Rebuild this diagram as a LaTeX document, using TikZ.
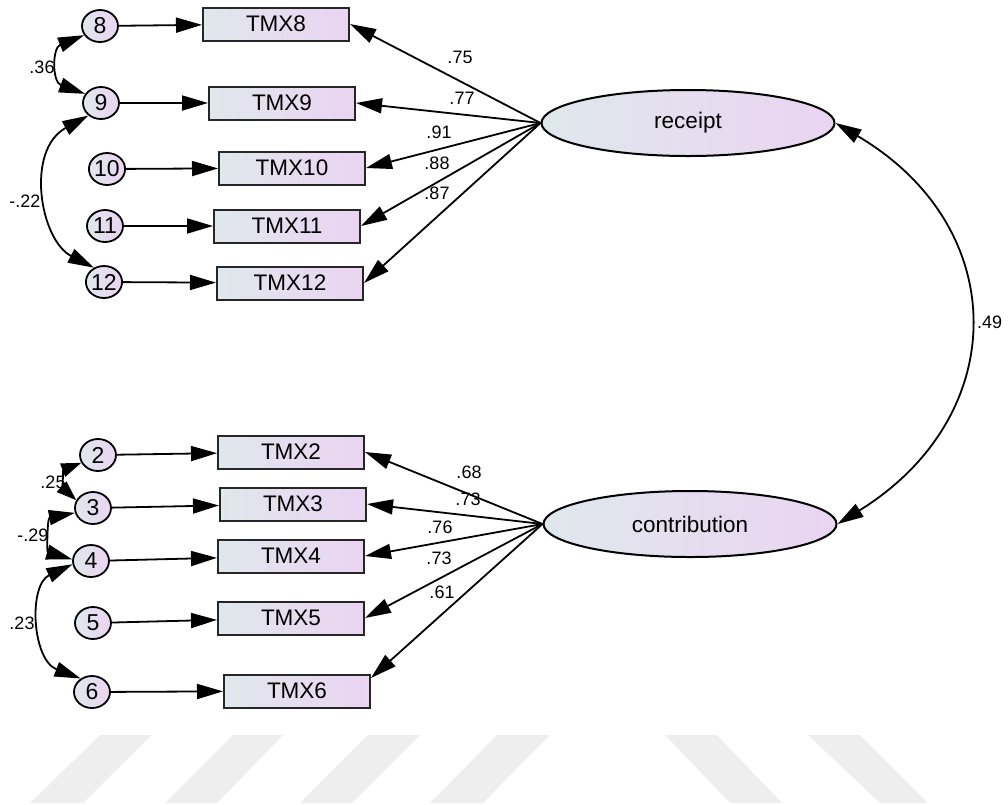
\documentclass[tikz,border=0pt]{standalone}
\usepackage{fontspec}
\setmainfont{Liberation Sans}
\usetikzlibrary{shapes.geometric,arrows.meta}

\definecolor{gradL}{RGB}{224,232,236}
\definecolor{gradR}{RGB}{234,212,242}
\definecolor{wmark}{RGB}{238,238,238}

\tikzset{
  >={Triangle[length=26pt,width=15pt]},
  grad/.style={left color=gradL, right color=gradR},
  errnode/.style={ellipse, draw=black, line width=1.8pt, minimum width=36pt,
    minimum height=32pt, inner sep=0pt, grad, font=\fontsize{23}{23}\selectfont},
  obsnode/.style={rectangle, draw=black!85, line width=2pt, minimum width=146pt,
    minimum height=33pt, inner sep=0pt, grad, font=\fontsize{22.5}{22.5}\selectfont},
  latnode/.style={ellipse, draw=black, line width=2pt, minimum width=293pt,
    minimum height=66pt, inner sep=0pt, grad, font=\fontsize{22.5}{22.5}\selectfont},
  load/.style={->, line width=1.8pt},
  covar/.style={<->, line width=1.8pt},
  smallcovar/.style={{Triangle[length=20pt,width=14pt]}-{Triangle[length=20pt,width=14pt]}, line width=1.8pt},
  coef/.style={font=\fontsize{18}{18}\selectfont, inner sep=0pt},
}

\begin{document}
\begin{tikzpicture}[x=1pt, y=-1pt]
\useasboundingbox (0,0) rectangle (1008,804);

% background stripes along the lower edge
\fill[wmark] (100,735) -- (152,735) -- (83,803) -- (30,803) -- cycle;
\fill[wmark] (233,735) -- (283,735) -- (217,803) -- (165,803) -- cycle;
\fill[wmark] (368,735) -- (420,735) -- (352,803) -- (300,803) -- cycle;
\fill[wmark] (497,735) -- (550,735) -- (483,803) -- (430,803) -- cycle;
\fill[wmark] (665,735) -- (717,735) -- (782,803) -- (730,803) -- cycle;
\fill[wmark] (808,735) -- (860,735) -- (928,803) -- (880,803) -- cycle;

% latent factors
\node[latnode] (rec) at (688,123) {receipt};
\node[latnode] (con) at (690,524) {contribution};

% indicators of "receipt"
\node[obsnode] (t8)  at (276,24)  {TMX8};
\node[obsnode] (t9)  at (282,103) {TMX9};
\node[obsnode] (t10) at (292,168) {TMX10};
\node[obsnode] (t11) at (287,226) {TMX11};
\node[obsnode] (t12) at (290,283) {TMX12};

% indicators of "contribution"
\node[obsnode] (t2) at (291,452) {TMX2};
\node[obsnode] (t3) at (293,504) {TMX3};
\node[obsnode] (t4) at (291,556) {TMX4};
\node[obsnode] (t5) at (291,618) {TMX5};
\node[obsnode] (t6) at (297,691) {TMX6};

% error terms
\node[errnode] (e8)  at (100,26)  {8};
\node[errnode] (e9)  at (101,103) {9};
\node[errnode] (e10) at (107,169) {10};
\node[errnode] (e11) at (105,226) {11};
\node[errnode] (e12) at (104,282) {12};
\node[errnode] (e2) at (98,455) {2};
\node[errnode] (e3) at (93,508) {3};
\node[errnode] (e4) at (91,561) {4};
\node[errnode] (e5) at (93,623) {5};
\node[errnode] (e6) at (92,692) {6};

% error paths
\foreach \i in {8,9,10,11,12,2,3,4,5,6}
  \draw[load] (e\i) -- (t\i);

% factor loadings
\foreach \i in {8,9,10,11,12}
  \draw[load] (rec.west) -- (t\i.east);
\foreach \i in {2,3,4,5}
  \draw[load] (con.west) -- (t\i.east);
\draw[load] (con.west) -- (t6.10);

\node[coef] (l8)  at (460,57)  {.75};
\node[coef] (l9)  at (462,98)  {.77};
\node[coef] (l10) at (439,132) {.91};
\node[coef] (l11) at (437,163) {.88};
\node[coef] (l12) at (437,193) {.87};
\node[coef] (l2) at (469,472) {.68};
\node[coef] (l3) at (468,499) {.73};
\node[coef] (l4) at (440,527) {.76};
\node[coef] (l5) at (439,558) {.73};
\node[coef] (l6) at (442,592) {.61};

% error covariances
\draw[covar] (e8.210) .. controls (52,48) and (52,82) .. (e9.150);
\draw[covar] (e9.225) .. controls (25,150) and (40,240) .. (e12.125);
\draw[smallcovar] (e2.205) .. controls (63,470) and (63,488) .. (e3.155);
\draw[covar] (e3.195) .. controls (47,518) and (47,552) .. (e4.175);
\draw[covar] (e4.190) .. controls (28,585) and (32,660) .. (e6.130);

\node[coef] (c89)  at (42,67)  {.36};
\node[coef] (c912) at (25,201) {-.22};
\node[coef] (c23)  at (53,482) {.25};
\node[coef] (c34)  at (33,535) {-.29};
\node[coef] (c46)  at (22,623) {.23};

% factor covariance
\draw[covar] (rec.east) .. controls (1012,227) and (1012,416) .. (con.east);
\node[coef, anchor=west] (crc) at (977,322) {.49};
\end{tikzpicture}
\end{document}
